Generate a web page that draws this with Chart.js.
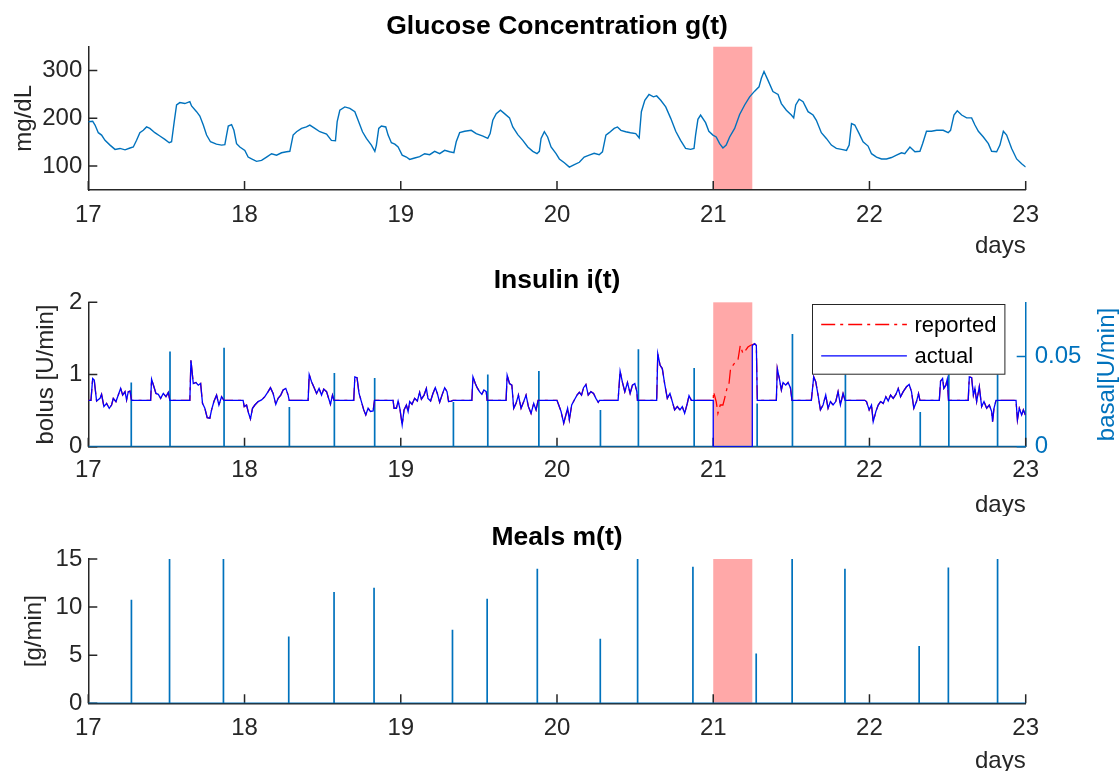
<!DOCTYPE html>
<html>
<head>
<meta charset="utf-8">
<script src="https://cdn.jsdelivr.net/npm/chart.js@4.4.0/dist/chart.umd.min.js"></script>
<style>
html,body{margin:0;padding:0;background:#fff;}
#wrap{position:relative;width:1119px;height:771px;overflow:hidden;background:#fff;}
canvas{position:absolute;left:0;}
</style>
</head>
<body>
<div id="wrap">
<canvas id="c1" width="1119" height="258" style="top:0px"></canvas>
<canvas id="c2" width="1119" height="258" style="top:258px"></canvas>
<canvas id="c3" width="1119" height="255" style="top:516px"></canvas>
</div>
<script>
// ---------------- data ----------------
const xMin = 17, xMax = 23;
const xTicks = [17, 18, 19, 20, 21, 22, 23];
const anomalyStart = 21, anomalyEnd = 21.25;

const glucoseTicks = [100, 200, 300];
const bolusTicks = [0, 1, 2];
const basalTicks = [0, 0.05];
const mealTicks = [0, 5, 10, 15];

// glucose [day, mg/dL]
const glucoseReadings = [
[17.0,193],[17.028,194],[17.043,186],[17.064,170],[17.085,165],[17.107,154],[17.139,144],[17.171,135],[17.203,137],[17.235,134],
[17.267,138],[17.288,140],[17.309,154],[17.33,170],[17.352,175],[17.373,182],[17.394,179],[17.426,170],[17.458,163],[17.49,156],
[17.518,149],[17.533,151],[17.55,193],[17.565,228],[17.586,233],[17.618,231],[17.65,235],[17.661,226],[17.693,214],[17.714,205],
[17.736,186],[17.757,165],[17.782,151],[17.82,146],[17.853,144],[17.874,145],[17.885,165],[17.896,184],[17.917,187],[17.932,175],
[17.949,147],[17.97,140],[18.002,133],[18.023,119],[18.045,115],[18.077,110],[18.109,112],[18.141,119],[18.173,126],[18.205,123],
[18.237,128],[18.269,130],[18.29,131],[18.311,165],[18.333,172],[18.365,179],[18.396,182],[18.418,186],[18.45,179],[18.482,172],
[18.525,167],[18.556,154],[18.582,153],[18.593,193],[18.61,217],[18.642,224],[18.674,221],[18.706,214],[18.727,196],[18.755,172],
[18.78,158],[18.812,144],[18.834,131],[18.844,144],[18.859,179],[18.876,184],[18.904,182],[18.919,165],[18.94,149],[18.962,146],
[18.983,140],[19.009,123],[19.036,119],[19.057,114],[19.089,117],[19.121,120],[19.153,126],[19.185,124],[19.217,131],[19.249,126],
[19.281,133],[19.313,130],[19.34,128],[19.355,151],[19.377,170],[19.409,173],[19.451,175],[19.483,168],[19.526,163],[19.557,158],
[19.572,168],[19.589,196],[19.611,210],[19.638,217],[19.664,210],[19.696,201],[19.717,182],[19.749,166],[19.781,154],[19.813,140],
[19.845,131],[19.872,126],[19.887,131],[19.898,158],[19.919,172],[19.94,161],[19.962,140],[19.994,126],[20.015,115],[20.047,107],
[20.079,98],[20.111,103],[20.143,108],[20.174,119],[20.206,123],[20.238,127],[20.27,124],[20.291,130],[20.313,165],[20.334,170],
[20.366,179],[20.387,182],[20.409,175],[20.44,172],[20.47,170],[20.504,168],[20.526,159],[20.54,214],[20.562,238],[20.589,250],
[20.617,245],[20.638,247],[20.664,238],[20.696,224],[20.728,200],[20.76,173],[20.791,154],[20.823,137],[20.855,135],[20.877,137],
[20.887,165],[20.902,198],[20.919,207],[20.951,191],[20.972,173],[20.998,165],[21.019,161],[21.041,147],[21.062,138],[21.083,144],
[21.105,161],[21.137,179],[21.169,208],[21.201,228],[21.233,245],[21.265,257],[21.293,266],[21.308,284],[21.325,298],[21.35,280],
[21.382,256],[21.415,250],[21.436,231],[21.468,217],[21.5,207],[21.515,201],[21.528,228],[21.55,240],[21.575,235],[21.607,214],
[21.639,207],[21.66,196],[21.692,170],[21.724,158],[21.756,144],[21.788,137],[21.821,135],[21.853,133],[21.87,144],[21.885,189],
[21.906,186],[21.934,168],[21.959,151],[21.991,142],[22.013,126],[22.045,119],[22.077,115],[22.109,115],[22.141,118],[22.173,123],
[22.205,128],[22.226,126],[22.259,140],[22.291,130],[22.323,131],[22.34,147],[22.365,173],[22.397,173],[22.43,175],[22.472,175],
[22.504,170],[22.519,175],[22.541,207],[22.562,216],[22.59,207],[22.622,201],[22.654,201],[22.675,186],[22.697,173],[22.729,161],
[22.761,147],[22.782,131],[22.814,130],[22.835,144],[22.857,173],[22.878,165],[22.91,137],[22.942,115],[22.974,105],[23.0,98]
];

// basal insulin actually delivered [day, U/min]
const basalActual = [
[17.0,0.0257],[17.017,0.0257],[17.028,0.0378],[17.038,0.0369],[17.053,0.0253],[17.075,0.0268],[17.085,0.029],[17.1,0.0222],[17.117,0.024],[17.134,0.0213],
[17.149,0.0231],[17.16,0.0268],[17.177,0.025],[17.192,0.0286],[17.207,0.0323],[17.22,0.0286],[17.235,0.0305],[17.245,0.0259],[17.256,0.0305],[17.267,0.0308],
[17.277,0.0257],[17.399,0.0257],[17.405,0.0374],[17.42,0.0332],[17.433,0.0295],[17.448,0.029],[17.463,0.0268],[17.48,0.0295],[17.497,0.0277],[17.512,0.0301],
[17.522,0.0257],[17.65,0.0257],[17.657,0.0479],[17.672,0.035],[17.689,0.0356],[17.704,0.0341],[17.719,0.035],[17.731,0.024],[17.746,0.0213],[17.761,0.0161],
[17.778,0.0158],[17.789,0.0204],[17.804,0.025],[17.821,0.0286],[17.836,0.0231],[17.853,0.0277],[17.868,0.0257],[17.991,0.0257],[17.998,0.0222],[18.013,0.0231],
[18.026,0.0185],[18.038,0.0154],[18.051,0.0213],[18.066,0.0231],[18.087,0.025],[18.109,0.0259],[18.13,0.0277],[18.151,0.0305],[18.166,0.0327],[18.183,0.0295],
[18.2,0.0235],[18.215,0.0268],[18.232,0.0286],[18.247,0.0314],[18.264,0.0323],[18.279,0.0286],[18.286,0.0257],[18.407,0.0257],[18.414,0.04],[18.429,0.036],
[18.443,0.0332],[18.461,0.0295],[18.477,0.0323],[18.493,0.0286],[18.507,0.0319],[18.525,0.0305],[18.535,0.0277],[18.55,0.0235],[18.563,0.0286],[18.573,0.0257],
[18.699,0.0257],[18.706,0.0387],[18.72,0.0382],[18.733,0.0295],[18.748,0.025],[18.763,0.0204],[18.776,0.0176],[18.791,0.0213],[18.806,0.0195],[18.823,0.0198],
[18.832,0.0257],[18.951,0.0257],[18.957,0.0213],[18.972,0.0213],[18.983,0.0253],[18.994,0.0213],[19.009,0.0121],[19.021,0.0204],[19.036,0.0231],[19.047,0.0195],
[19.057,0.025],[19.072,0.0235],[19.089,0.0268],[19.106,0.0253],[19.121,0.0301],[19.132,0.0264],[19.149,0.0286],[19.164,0.0323],[19.174,0.0268],[19.191,0.0253],
[19.206,0.0295],[19.221,0.0327],[19.234,0.0295],[19.249,0.0246],[19.264,0.0286],[19.281,0.0327],[19.296,0.0305],[19.306,0.025],[19.323,0.0253],[19.334,0.0257],
[19.455,0.0257],[19.462,0.0387],[19.477,0.035],[19.489,0.0327],[19.504,0.0305],[19.519,0.029],[19.532,0.0314],[19.547,0.0305],[19.553,0.0257],[19.674,0.0257],
[19.681,0.0396],[19.696,0.035],[19.711,0.0341],[19.723,0.0213],[19.738,0.024],[19.753,0.0286],[19.77,0.0213],[19.787,0.025],[19.802,0.0286],[19.817,0.0222],
[19.834,0.0185],[19.851,0.024],[19.866,0.0204],[19.879,0.0257],[20.0,0.0257],[20.011,0.0231],[20.026,0.0195],[20.043,0.013],[20.057,0.0176],[20.068,0.0213],
[20.079,0.0149],[20.094,0.0231],[20.111,0.0259],[20.128,0.0286],[20.143,0.0301],[20.157,0.0286],[20.17,0.0327],[20.185,0.0345],[20.2,0.0286],[20.217,0.0305],
[20.234,0.0295],[20.249,0.0268],[20.264,0.0246],[20.272,0.0257],[20.391,0.0257],[20.404,0.0418],[20.419,0.0356],[20.434,0.0305],[20.451,0.0356],[20.468,0.0295],
[20.483,0.0341],[20.498,0.035],[20.511,0.0305],[20.515,0.0257],[20.638,0.0257],[20.645,0.0516],[20.66,0.0451],[20.674,0.0433],[20.689,0.035],[20.706,0.0268],
[20.723,0.0295],[20.738,0.025],[20.753,0.0204],[20.77,0.0222],[20.787,0.0204],[20.802,0.0222],[20.817,0.0185],[20.834,0.024],[20.845,0.0283],[20.86,0.0257],
[21.0,0.0257],[21.0,0],[21.25,0],[21.25,0.0561],[21.265,0.0571],[21.276,0.0561],[21.282,0.0257],[21.404,0.0257],[21.41,0.0433],[21.425,0.0369],
[21.436,0.0314],[21.447,0.0356],[21.464,0.0341],[21.479,0.0356],[21.494,0.0327],[21.504,0.0257],[21.628,0.0257],[21.643,0.0387],[21.656,0.036],[21.671,0.0286],
[21.686,0.0204],[21.703,0.0231],[21.72,0.0286],[21.735,0.0213],[21.75,0.025],[21.767,0.0231],[21.784,0.025],[21.799,0.0305],[21.814,0.0231],[21.831,0.0295],
[21.844,0.0257],[21.97,0.0257],[21.981,0.025],[21.998,0.0204],[22.013,0.0231],[22.024,0.0139],[22.041,0.0195],[22.056,0.0231],[22.071,0.025],[22.088,0.024],
[22.105,0.0277],[22.12,0.0253],[22.135,0.0286],[22.152,0.0268],[22.169,0.029],[22.184,0.0323],[22.199,0.0277],[22.216,0.0305],[22.237,0.0332],[22.254,0.0345],
[22.269,0.0305],[22.284,0.0213],[22.301,0.025],[22.314,0.0294],[22.323,0.0257],[22.447,0.0257],[22.455,0.0363],[22.468,0.0378],[22.476,0.0323],[22.489,0.0341],
[22.498,0.0374],[22.506,0.0257],[22.632,0.0257],[22.639,0.0387],[22.654,0.0382],[22.665,0.0286],[22.675,0.0323],[22.686,0.025],[22.703,0.0332],[22.718,0.0222],
[22.733,0.025],[22.75,0.0213],[22.767,0.0231],[22.782,0.0195],[22.788,0.0139],[22.797,0.0213],[22.81,0.0257],[22.938,0.0257],[22.947,0.0149],[22.959,0.0213],
[22.974,0.0176],[22.985,0.0204],[22.998,0.0176]
];

// basal insulin reported during the highlighted interval [day, U/min]
const basalReportedGap = [
[21.002,0.0305],[21.019,0.025],[21.03,0.0185],[21.045,0.0231],[21.062,0.0231],[21.073,0.0268],[21.088,0.0323],[21.1,0.0341],[21.111,0.0433],
[21.126,0.0451],[21.143,0.047],[21.158,0.0479],[21.173,0.0561],[21.19,0.0516],[21.207,0.0534],[21.222,0.0552],[21.237,0.0561],[21.248,0.0565]
];

// boluses
const bolusDays   = [17.275, 17.523, 17.869, 18.287, 18.575, 18.833, 19.337, 19.557, 19.884, 20.278, 20.521, 20.878, 21.281, 21.507, 21.846, 22.325, 22.508, 22.82];
const bolusValues = [0.89,   1.32,   1.37,   0.55,   1.02,   0.95,   0.62,   1.0,    1.05,   0.51,   1.35,   1.09,   0.6,    1.56,   1.0,    0.48,   1.0,    1.0];

// meals
const mealDays   = [17.276, 17.52, 17.865, 18.283, 18.573, 18.829, 19.331, 19.553, 19.874, 20.277, 20.516, 20.87, 21.275, 21.505, 21.843, 22.318, 22.505, 22.82];
const mealValues = [10.76,  15,    15,     6.94,   11.56,  12.01,  7.64,   10.87,  13.99,  6.70,   15,     14.2,  5.17,   15,     14.0,   5.97,   14.13,  15];

// ---------------- helpers ----------------
const FONT = '"Liberation Sans", Arial, Helvetica, sans-serif';
const AXIS = '#262626';
const BLUE = '#0072BD';
const TICK_SIZE = 24, LABEL_SIZE = 24, TITLE_SIZE = 26.5, LEGEND_SIZE = 22;

const toXY = pairs => pairs.map(p => ({x: p[0], y: p[1]}));
function stemPoints(days, vals) {
  const pts = [{x: xMin, y: 0}];
  days.forEach((d, i) => { pts.push({x: d, y: 0}, {x: d, y: vals[i]}, {x: d, y: 0}); });
  pts.push({x: xMax, y: 0});
  return pts;
}
const reportedSeries = toXY(basalActual.filter(p => p[0] <= anomalyStart && !(p[0] === anomalyStart && p[1] === 0)))
  .concat(toXY(basalReportedGap))
  .concat(toXY(basalActual.filter(p => p[0] > anomalyEnd)));

function xScale(tickPad, titlePadBottom, height) {
  return {
    type: 'linear', position: 'bottom', min: xMin, max: xMax,
    afterBuildTicks: s => { s.ticks = xTicks.map(v => ({value: v})); },
    afterFit: s => { s.height = height; },
    grid: {display: false, drawTicks: false},
    border: {display: true, color: AXIS, width: 1.5},
    ticks: {color: AXIS, font: {family: FONT, size: TICK_SIZE, lineHeight: 1}, padding: tickPad, maxRotation: 0, autoSkip: false, callback: v => String(v)},
    title: {display: true, text: 'days', align: 'end', color: AXIS, font: {family: FONT, size: LABEL_SIZE, lineHeight: 1}, padding: {top: 0, bottom: titlePadBottom}}
  };
}
function yScale(min, max, tickArr, titleText, titlePadTop) {
  return {
    type: 'linear', position: 'left', min: min, max: max,
    afterBuildTicks: s => { s.ticks = tickArr.map(v => ({value: v})); },
    afterFit: s => { s.width = 88.3; },
    grid: {display: false, drawTicks: false},
    border: {display: true, color: AXIS, width: 1.5},
    ticks: {color: AXIS, font: {family: FONT, size: TICK_SIZE, lineHeight: 1}, padding: 6, callback: v => String(v)},
    title: {display: true, text: titleText, color: AXIS, font: {family: FONT, size: LABEL_SIZE, lineHeight: 1}, padding: {top: titlePadTop, bottom: 0}}
  };
}
const dummyRight = {
  type: 'linear', position: 'right', display: true,
  afterFit: s => { s.width = 88.3; },
  grid: {display: false, drawTicks: false},
  border: {display: false},
  ticks: {display: false}
};
function titleOpts(text, padTop, padBottom) {
  return {display: true, text: text, color: '#000',
    font: {family: FONT, size: TITLE_SIZE, weight: 'bold', lineHeight: 1.25},
    padding: {top: padTop, bottom: padBottom}};
}

// highlighted interval (drawn under everything)
const anomalyBox = {
  id: 'anomalyBox',
  beforeDraw(chart) {
    const xs = chart.scales.x, a = chart.chartArea, ctx = chart.ctx;
    const x0 = xs.getPixelForValue(anomalyStart), x1 = xs.getPixelForValue(anomalyEnd);
    ctx.save();
    ctx.fillStyle = '#ffa8a8';
    ctx.fillRect(x0, a.top, x1 - x0, a.bottom - a.top);
    ctx.restore();
  }
};
// MATLAB-style inward tick marks
const inwardTicks = {
  id: 'inwardTicks',
  beforeDatasetsDraw(chart) {
    const ctx = chart.ctx, a = chart.chartArea, L = 9;
    ctx.save();
    ctx.lineWidth = 1.5;
    Object.values(chart.scales).forEach(s => {
      if (!s.options.border.display || !s.ticks) return;
      ctx.strokeStyle = s.options.border.color;
      ctx.beginPath();
      s.ticks.forEach(t => {
        const p = s.getPixelForValue(t.value);
        if (s.isHorizontal()) { ctx.moveTo(p, a.bottom); ctx.lineTo(p, a.bottom - L); }
        else if (s.position === 'left') { ctx.moveTo(a.left, p); ctx.lineTo(a.left + L, p); }
        else { ctx.moveTo(a.right, p); ctx.lineTo(a.right - L, p); }
      });
      ctx.stroke();
    });
    ctx.restore();
  }
};
// right axis label (reads bottom to top) and boxed legend for insulin panel
const insulinExtras = {
  id: 'insulinExtras',
  afterDraw(chart) {
    const ctx = chart.ctx, a = chart.chartArea;
    ctx.save();
    ctx.translate(chart.width - 12, (a.top + a.bottom) / 2);
    ctx.rotate(-Math.PI / 2);
    ctx.fillStyle = BLUE;
    ctx.font = LABEL_SIZE + 'px ' + FONT;
    ctx.textAlign = 'center';
    ctx.textBaseline = 'middle';
    ctx.fillText('basal[U/min]', 0, 0);
    ctx.restore();

    const items = chart.data.datasets.filter(d => d.showInLegend).sort((p, q) => p.legendOrder - q.legendOrder);
    const bw = 192.4, bh = 69.7;
    const bx = Math.round(a.right - 21 - bw) + 0.5, by = Math.round(a.top + 2) + 0.5;
    ctx.save();
    ctx.fillStyle = '#fff';
    ctx.fillRect(bx, by, bw, bh);
    ctx.strokeStyle = AXIS; ctx.lineWidth = 1;
    ctx.strokeRect(bx, by, bw, bh);
    ctx.font = LEGEND_SIZE + 'px ' + FONT;
    ctx.textBaseline = 'middle'; ctx.textAlign = 'left';
    items.forEach((d, i) => {
      const y = by + 20 + i * 31.4;
      ctx.strokeStyle = d.borderColor; ctx.lineWidth = 1.3;
      ctx.setLineDash(d.borderDash || []);
      ctx.beginPath(); ctx.moveTo(bx + 8.7, y); ctx.lineTo(bx + 94.4, y); ctx.stroke();
      ctx.setLineDash([]);
      ctx.fillStyle = '#000';
      ctx.fillText(d.label, bx + 102, y + 1);
    });
    ctx.restore();
  }
};

const baseOpts = {
  responsive: false, animation: false, devicePixelRatio: 1,
  layout: {padding: {left: 0, right: 5, top: 0, bottom: 0}},
  elements: {point: {radius: 0}, line: {tension: 0}},
  events: []
};

// ---------------- panel 1: glucose ----------------
new Chart(document.getElementById('c1'), {
  type: 'line',
  data: {datasets: [{
    label: 'g(t)', data: toXY(glucoseReadings), borderColor: BLUE, borderWidth: 1.4, pointRadius: 0, fill: false
  }]},
  options: Object.assign({}, baseOpts, {
    plugins: {legend: {display: false}, tooltip: {enabled: false}, title: titleOpts('Glucose Concentration g(t)', 10.4, 3.2)},
    scales: {x: xScale(13, 0, 68), y: yScale(50, 350, glucoseTicks, 'mg/dL', 12.5), yR: dummyRight}
  }),
  plugins: [anomalyBox, inwardTicks]
});

// ---------------- panel 2: insulin ----------------
new Chart(document.getElementById('c2'), {
  type: 'line',
  data: {datasets: [
    {label: 'actual', data: toXY(basalActual), yAxisID: 'y1', borderColor: '#0000FF', borderWidth: 1.3, pointRadius: 0, fill: false, order: 0, showInLegend: true, legendOrder: 1},
    {label: 'reported', data: reportedSeries, yAxisID: 'y1', borderColor: '#FF0000', borderWidth: 1.3, borderDash: [14, 5, 3, 5], pointRadius: 0, fill: false, order: 1, showInLegend: true, legendOrder: 0},
    {label: 'bolus', data: stemPoints(bolusDays, bolusValues), yAxisID: 'y', borderColor: BLUE, borderWidth: 1.7, pointRadius: 0, fill: false, order: 2}
  ]},
  options: Object.assign({}, baseOpts, {
    plugins: {legend: {display: false}, tooltip: {enabled: false}, title: titleOpts('Insulin i(t)', 6.4, 4.8)},
    scales: {
      x: xScale(11.8, -1, 69.3),
      y: yScale(0, 2, bolusTicks, 'bolus [U/min]', 34.5),
      y1: {
        type: 'linear', position: 'right', min: 0, max: 0.08,
        afterBuildTicks: s => { s.ticks = basalTicks.map(v => ({value: v})); },
        afterFit: s => { s.width = 88.3; },
        grid: {display: false, drawTicks: false},
        border: {display: true, color: BLUE, width: 1.5},
        ticks: {color: BLUE, font: {family: FONT, size: TICK_SIZE, lineHeight: 1}, padding: 9, callback: v => String(v)},
        title: {display: false}
      }
    }
  }),
  plugins: [anomalyBox, inwardTicks, insulinExtras]
});

// ---------------- panel 3: meals ----------------
new Chart(document.getElementById('c3'), {
  type: 'line',
  data: {datasets: [{
    label: 'm(t)', data: stemPoints(mealDays, mealValues), borderColor: BLUE, borderWidth: 1.7, pointRadius: 0, fill: false
  }]},
  options: Object.assign({}, baseOpts, {
    plugins: {legend: {display: false}, tooltip: {enabled: false}, title: titleOpts('Meals m(t)', 5.4, 4.5)},
    scales: {x: xScale(13.2, -2, 67.7), y: yScale(0, 15, mealTicks, '[g/min]', 22.5), yR: dummyRight}
  }),
  plugins: [anomalyBox, inwardTicks]
});
</script>
</body>
</html>
